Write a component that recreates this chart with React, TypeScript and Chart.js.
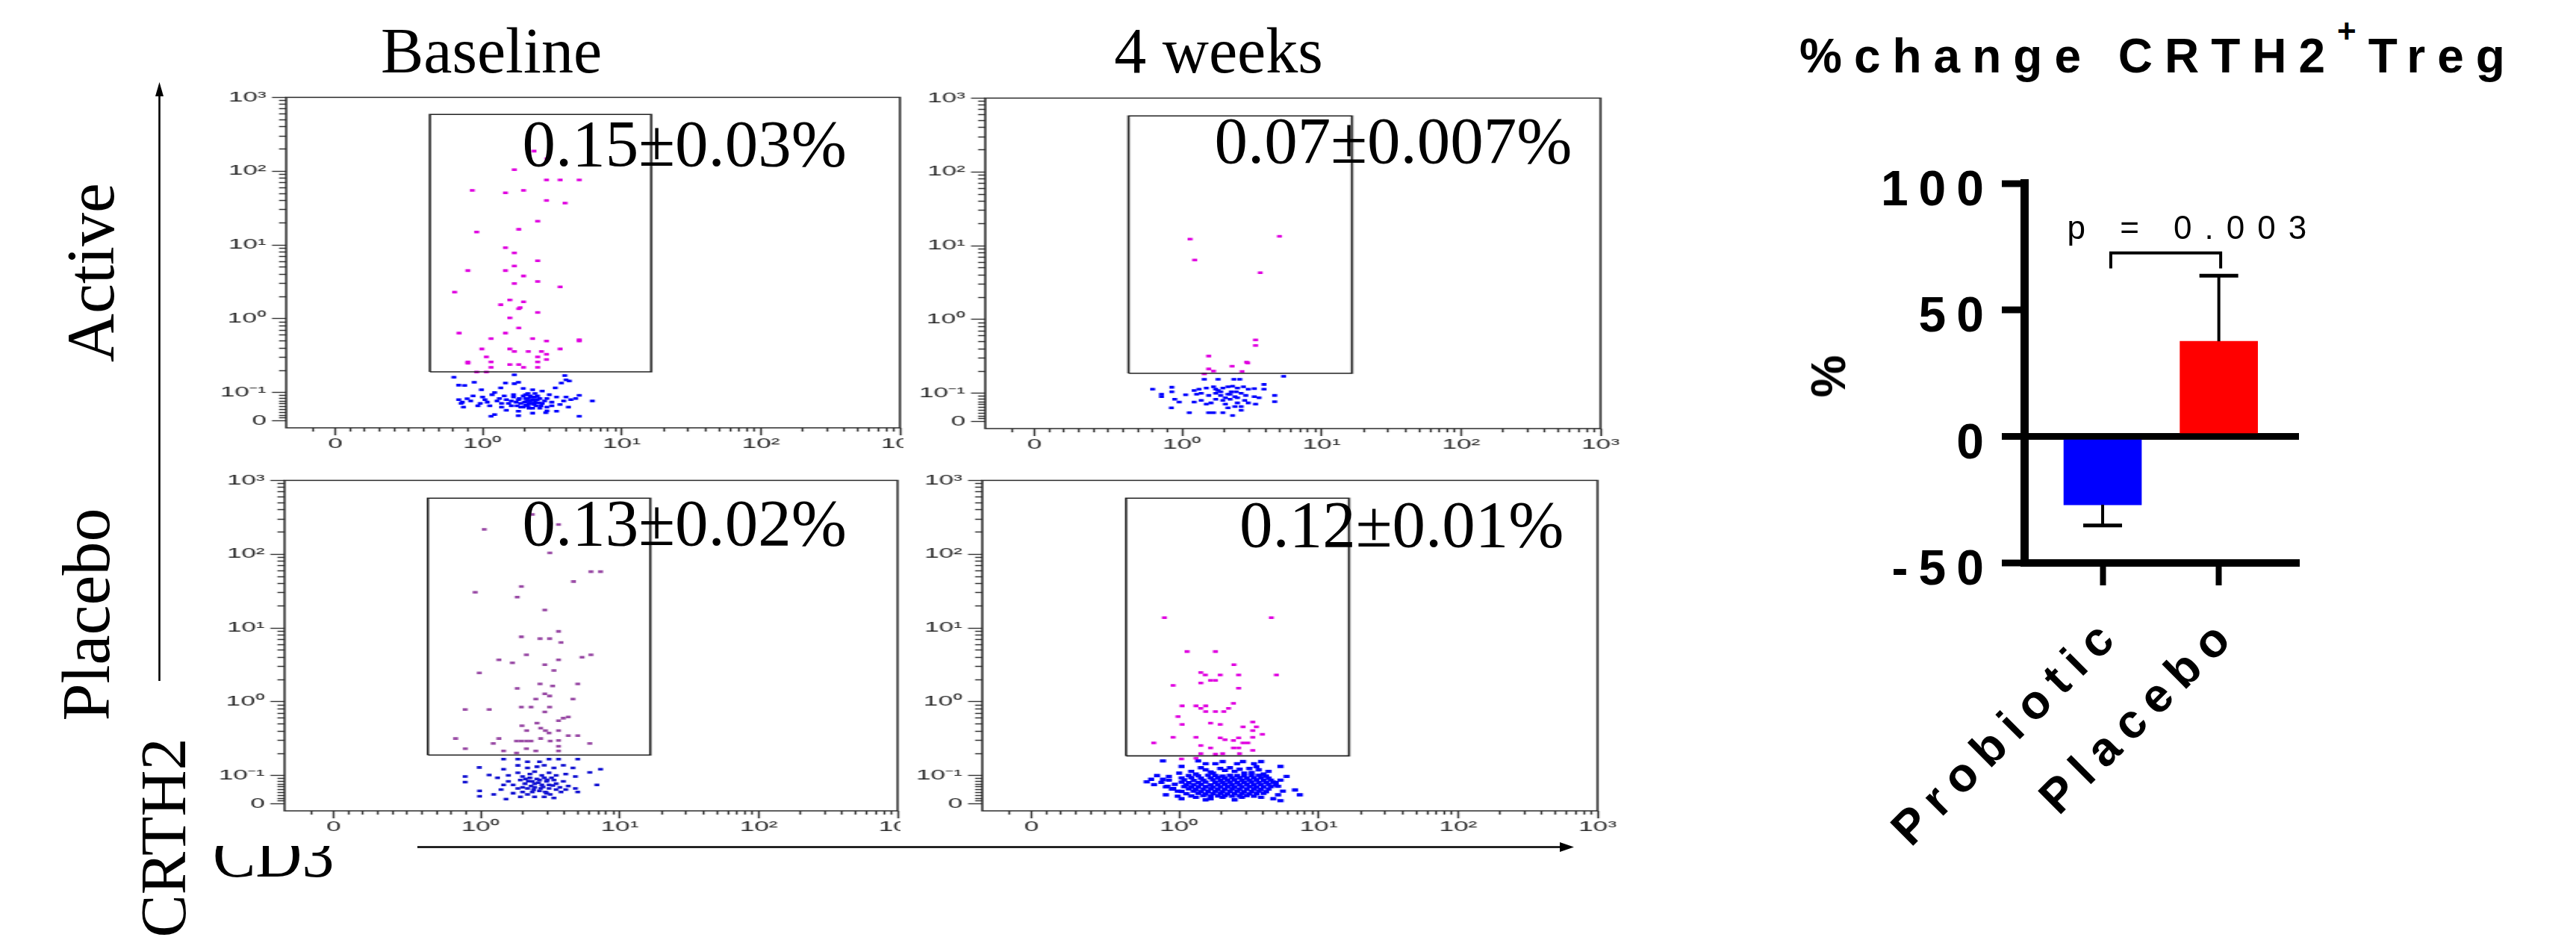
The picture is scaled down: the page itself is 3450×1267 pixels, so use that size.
import React, { useEffect, useRef } from 'react';
import { Chart, Scale, registerables } from 'chart.js';

Chart.register(...registerables);

// ---------------- data ----------------
const flowXTicksMajor = [0, 1, 10, 100, 1000];
const flowXLabelsMajor = ['0', '10⁰', '10¹', '10²', '10³'];
const flowXTicksMinor = [-0.15, 0.1, 0.2, 0.3, 0.4, 0.5, 0.6, 0.7, 0.8, 0.9, 2, 3, 4, 5, 6, 7, 8, 9, 20, 30, 40, 50, 60, 70, 80, 90, 200, 300, 400, 500, 600, 700, 800, 900];
const flowYTicksMajor = [0, 0.1, 1, 10, 100, 1000];
const flowYLabelsMajor = ['0', '10⁻¹', '10⁰', '10¹', '10²', '10³'];
const flowYTicksMinor = [0.01, 0.02, 0.03, 0.04, 0.05, 0.06, 0.07, 0.08, 0.09, 0.2, 0.3, 0.4, 0.5, 0.6, 0.7, 0.8, 0.9, 2, 3, 4, 5, 6, 7, 8, 9, 20, 30, 40, 50, 60, 70, 80, 90, 200, 300, 400, 500, 600, 700, 800, 900];

const columnTitles = ['Baseline', '4 weeks'];
const rowTitles = ['Active', 'Placebo'];
const yAxisName = 'CRTH2';
const xAxisName = 'CD3';
const gatePercents = ['0.15±0.03%', '0.07±0.007%', '0.13±0.02%', '0.12±0.01%'];

// gates: [xLow, xHigh, yLow, yHigh]
const gateTL = [0.642, 16.3, 0.191, 588];
const gateTR = [0.637, 16.5, 0.187, 574];
const gateBL = [0.64, 16.6, 0.19, 574];
const gateBR = [0.64, 16.5, 0.185, 574];

const tlMagenta: number[][] = [[2.34,187],[2.9,148],[1.69,105],[2.88,76],[3.61,76],[4.95,76],[0.93,55],[1.46,51],[1.97,55],[2.88,40],[3.92,37],[2.49,21],[0.96,15],[1.82,16.3],[1.46,9.2],[1.69,7.8],[2.49,6.1],[1.69,5.2],[0.9,4.5],[1.46,4.5],[1.97,3.8],[1.69,3.0],[2.49,3.2],[3.61,2.7],[0.81,2.3],[1.57,1.8],[1.97,1.7],[1.35,1.55],[1.82,1.37],[1.86,1.42],[2.49,1.22],[1.57,1.03],[1.82,0.75],[0.84,0.64],[1.46,0.64],[1.15,0.54],[2.29,0.54],[2.88,0.5],[4.95,0.52],[4.95,0.5],[0.995,0.39],[1.57,0.39],[1.69,0.36],[2.13,0.36],[2.65,0.36],[2.88,0.33],[3.61,0.39],[1.065,0.305],[2.49,0.305],[2.88,0.28],[0.9,0.25],[0.9,0.26],[1.15,0.26],[1.57,0.24],[1.82,0.24],[1.97,0.22],[2.49,0.26],[1.15,0.22],[2.49,0.22],[0.96,0.19],[1.065,0.19]];
const tlBlue: number[][] = [[0.805,0.161],[1.69,0.174],[3.9,0.17],[3.98,0.149],[4.2,0.144],[0.838,0.126],[0.878,0.125],[0.943,0.138],[1.46,0.135],[1.69,0.132],[1.81,0.138],[3.68,0.135],[3.33,0.116],[0.992,0.109],[1.35,0.116],[1.22,0.1],[1.96,0.114],[2.29,0.109],[2.68,0.105],[3.02,0.0925],[0.935,0.088],[1.0,0.084],[1.17,0.0925],[1.43,0.088],[1.67,0.0925],[2.12,0.097],[2.38,0.097],[2.48,0.088],[2.9,0.079],[3.4,0.084],[3.98,0.084],[4.67,0.079],[4.95,0.09],[6.15,0.0706],[0.838,0.075],[0.862,0.066],[0.919,0.0706],[0.984,0.062],[1.08,0.066],[1.27,0.0706],[1.48,0.075],[1.81,0.075],[2.04,0.079],[2.2,0.0706],[2.38,0.066],[2.68,0.062],[3.14,0.066],[3.6,0.0575],[4.14,0.0487],[0.87,0.0487],[0.968,0.053],[1.126,0.053],[1.37,0.0487],[1.61,0.053],[1.88,0.0487],[2.12,0.053],[2.29,0.0443],[2.58,0.0443],[2.9,0.0355],[3.4,0.034],[1.48,0.037],[1.81,0.034],[1.22,0.022],[1.15,0.016],[2.29,0.027],[1.81,0.018],[2.85,0.0285],[4.95,0.016],[2.04,0.0925],[2.25,0.084],[2.34,0.0575],[2.16,0.062],[2.0,0.066],[2.48,0.075],[1.88,0.062],[1.74,0.066],[2.63,0.053],[1.54,0.062],[1.96,0.0487],[1.67,0.084],[1.37,0.062],[2.12,0.079],[2.29,0.075],[2.38,0.084],[2.2,0.088],[2.08,0.0706],[2.25,0.062],[2.43,0.053],[2.16,0.0443],[1.96,0.088],[1.84,0.079],[2.53,0.064],[2.04,0.055],[1.77,0.053],[2.79,0.0706],[2.58,0.079],[1.61,0.0706],[1.32,0.079],[1.04,0.075],[0.895,0.078],[0.854,0.062],[2.9,0.0487],[3.83,0.0706],[4.31,0.075],[3.14,0.053]];

const trMagenta: number[][] = [[1.14,12.3],[1.23,6.4],[4.99,13.4],[3.63,4.3],[3.36,0.53],[3.36,0.445],[1.55,0.32],[2.9,0.265],[2.95,0.258],[2.28,0.233],[1.55,0.214],[1.68,0.2],[2.69,0.198],[1.44,0.183]];
const trBlue: number[][] = [[1.44,0.155],[1.81,0.155],[2.35,0.155],[2.59,0.155],[5.34,0.17],[0.8,0.114],[0.93,0.121],[0.93,0.105],[0.86,0.097],[0.86,0.088],[1.06,0.095],[0.95,0.079],[0.98,0.069],[1.22,0.109],[1.32,0.114],[1.49,0.118],[1.68,0.123],[1.81,0.109],[1.96,0.118],[2.13,0.123],[2.3,0.125],[2.49,0.118],[2.75,0.123],[2.98,0.114],[3.29,0.116],[3.86,0.132],[3.86,0.114],[1.27,0.097],[1.37,0.1],[1.55,0.0925],[1.74,0.1],[1.89,0.0925],[2.13,0.097],[2.25,0.105],[2.39,0.088],[2.65,0.1],[2.86,0.0925],[3.29,0.088],[3.56,0.084],[4.61,0.0925],[4.61,0.0706],[1.22,0.069],[1.49,0.062],[1.61,0.066],[1.96,0.075],[2.21,0.079],[2.49,0.066],[2.65,0.053],[2.98,0.066],[3.36,0.062],[0.927,0.0487],[1.126,0.031],[1.55,0.031],[1.68,0.031],[1.96,0.031],[2.13,0.0487],[2.3,0.0215],[2.65,0.04],[2.39,0.053],[1.74,0.079],[2.04,0.062],[1.89,0.105],[2.21,0.097],[2.44,0.105],[1.74,0.114],[2.04,0.084],[2.49,0.084],[2.81,0.075],[1.37,0.075]];

const blMagenta: number[][] = [[1.06,217],[2.35,346],[3.63,253],[3.14,104],[6.21,58],[7.28,58],[4.65,42.6],[0.962,30.5],[1.96,36.5],[1.83,26.2],[2.89,17.5],[3.63,9.0],[1.96,7.6],[2.67,7.17],[3.13,7.17],[3.78,6.38],[1.35,3.71],[2.13,4.33],[1.69,3.38],[3.63,3.71],[5.36,4.01],[6.21,4.33],[2.89,3.18],[3.36,2.66],[0.99,2.46],[1.83,1.52],[2.67,1.75],[3.29,1.64],[4.99,1.75],[2.49,1.09],[2.89,1.28],[3.13,1.2],[4.61,1.09],[0.894,0.787],[1.15,0.787],[1.96,0.85],[2.3,0.85],[3.13,0.85],[2.89,0.728],[3.63,0.555],[3.93,0.6],[4.26,0.623],[1.98,0.475],[2.14,0.407],[2.7,0.44],[2.92,0.407],[3.63,0.407],[0.829,0.318],[1.35,0.318],[1.81,0.294],[1.96,0.294],[2.13,0.294],[2.3,0.294],[2.7,0.318],[3.16,0.294],[3.63,0.2985],[4.26,0.348],[4.99,0.348],[6.09,0.272],[1.23,0.272],[0.895,0.231],[1.46,0.2155],[1.81,0.2025],[2.13,0.231],[2.49,0.2155],[3.63,0.2155],[3.63,0.25],[3.1,0.377],[2.54,0.513]];
const blBlue: number[][] = [[1.46,0.167],[1.85,0.167],[2.17,0.154],[2.65,0.154],[3.1,0.167],[3.63,0.167],[4.99,0.167],[0.99,0.129],[1.46,0.122],[1.85,0.1375],[2.17,0.127],[2.54,0.132],[2.86,0.138],[3.36,0.127],[3.93,0.138],[4.61,0.127],[6.09,0.1106],[7.28,0.122],[0.894,0.0966],[0.894,0.0772],[1.149,0.102],[1.32,0.0924],[1.58,0.1007],[1.85,0.109],[2.0,0.0966],[2.26,0.105],[2.44,0.113],[2.75,0.1007],[3.1,0.109],[3.49,0.1007],[4.09,0.105],[4.8,0.0966],[6.85,0.0671],[0.992,0.046],[0.992,0.0266],[1.24,0.0333],[1.4,0.0502],[1.46,0.0671],[1.58,0.0797],[1.71,0.0671],[1.93,0.084],[2.08,0.0713],[2.35,0.0797],[2.54,0.0882],[2.75,0.0671],[2.98,0.0797],[3.23,0.0924],[3.49,0.0713],[3.93,0.0797],[4.26,0.0629],[4.8,0.0544],[4.99,0.0418],[1.52,0.0165],[1.71,0.0376],[1.93,0.0249],[2.17,0.0333],[2.44,0.0249],[2.86,0.0249],[2.98,0.0376],[3.36,0.0207],[3.78,0.0418],[4.09,0.0502],[2.17,0.0544],[2.44,0.0586],[2.65,0.046],[3.1,0.0544],[3.49,0.0502],[1.85,0.0544],[2.0,0.0418],[2.35,0.0418],[2.26,0.0924],[2.44,0.0713],[2.65,0.084],[2.86,0.0924],[3.1,0.0671],[3.36,0.084],[3.71,0.0586],[2.0,0.0586],[2.3,0.0629],[2.7,0.0544],[2.92,0.0418],[3.16,0.0333],[2.2,0.08],[2.6,0.075],[2.8,0.06],[2.4,0.05],[3.0,0.085],[2.1,0.088],[3.3,0.065]];

const brMagenta: number[][] = [[0.9,13.8],[4.58,13.8],[1.14,4.8],[1.82,4.8],[2.47,3.19],[1.43,2.49],[1.54,2.31],[1.97,2.31],[2.67,2.31],[4.98,2.31],[1.68,1.95],[1.82,1.95],[1.43,1.8],[0.959,1.67],[2.67,1.53],[1.05,0.881],[1.32,0.881],[1.55,0.881],[1.43,0.815],[2.45,0.951],[1.55,0.738],[1.82,0.738],[2.09,0.738],[2.26,0.815],[0.992,0.632],[1.68,0.513],[1.97,0.494],[1.05,0.494],[2.87,0.457],[3.37,0.533],[3.58,0.457],[3.37,0.407],[3.95,0.3625],[0.828,0.277],[0.959,0.331],[1.32,0.331],[1.97,0.325],[2.13,0.306],[2.45,0.299],[2.67,0.325],[2.87,0.277],[3.11,0.277],[3.37,0.331],[1.43,0.256],[1.68,0.237],[2.45,0.237],[2.67,0.237],[3.37,0.2197],[1.43,0.1985],[1.82,0.195],[2.05,0.1985],[2.71,0.1985],[1.04,0.168],[1.32,0.172]];
const brBlue: number[][] = [
[1.17,0.1],[1.37,0.099],[1.61,0.101],[1.82,0.1],[2.05,0.098],[2.31,0.101],[2.6,0.1],[2.93,0.099],[3.31,0.1],[3.72,0.101],[4.2,0.098],
[1.04,0.092],[1.22,0.093],[1.43,0.091],[1.68,0.092],[1.9,0.093],[2.13,0.091],[2.4,0.092],[2.71,0.093],[3.05,0.091],[3.44,0.092],[3.87,0.093],[4.37,0.091],
[0.93,0.084],[1.085,0.085],[1.27,0.083],[1.49,0.084],[1.75,0.085],[1.97,0.083],[2.22,0.084],[2.5,0.085],[2.82,0.083],[3.18,0.084],[3.58,0.085],[4.03,0.083],[4.55,0.084],
[0.88,0.076],[1.04,0.077],[1.17,0.075],[1.37,0.076],[1.55,0.077],[1.82,0.075],[2.05,0.076],[2.31,0.077],[2.6,0.075],[2.93,0.076],[3.31,0.077],[3.72,0.075],[4.2,0.076],[4.73,0.077],
[0.83,0.068],[0.97,0.069],[1.127,0.067],[1.27,0.068],[1.43,0.069],[1.68,0.067],[1.9,0.068],[2.13,0.069],[2.4,0.067],[2.71,0.068],[3.05,0.069],[3.44,0.067],[3.87,0.068],[4.37,0.069],[4.93,0.067],
[0.91,0.06],[1.085,0.061],[1.22,0.059],[1.37,0.06],[1.55,0.061],[1.75,0.059],[1.97,0.06],[2.22,0.061],[2.5,0.059],[2.82,0.06],[3.18,0.061],[3.58,0.059],[4.03,0.06],[4.55,0.061],
[0.95,0.052],[1.17,0.053],[1.32,0.051],[1.49,0.052],[1.68,0.053],[1.9,0.051],[2.13,0.052],[2.4,0.053],[2.71,0.051],[3.05,0.052],[3.44,0.053],[3.87,0.051],[4.37,0.052],
[1.04,0.044],[1.27,0.045],[1.43,0.043],[1.61,0.044],[1.82,0.045],[2.05,0.043],[2.31,0.044],[2.6,0.045],[2.93,0.043],[3.31,0.044],[3.72,0.045],[4.2,0.043],
[1.127,0.036],[1.37,0.037],[1.55,0.035],[1.75,0.036],[1.97,0.037],[2.22,0.035],[2.5,0.036],[2.82,0.037],[3.18,0.035],[3.58,0.036],[4.03,0.037],
[1.22,0.028],[1.49,0.029],[1.68,0.027],[1.9,0.028],[2.13,0.029],[2.4,0.027],[2.71,0.028],[3.05,0.029],[3.44,0.027],
[0.89,0.158],[1.04,0.133],[1.37,0.158],[1.55,0.145],[1.82,0.145],[2.05,0.155],[2.6,0.145],[2.87,0.155],[3.44,0.145],[3.87,0.155],[5.33,0.133],[1.97,0.125],[2.31,0.128],[3.18,0.125],[3.72,0.12],[4.37,0.114],[1.55,0.12],[1.22,0.114],[1.43,0.128],[1.75,0.108],[2.5,0.114],[2.93,0.108],[4.03,0.105],[1.0,0.108],[0.93,0.097],[1.68,0.112],[2.13,0.118],[2.71,0.122],[3.31,0.11],[1.32,0.105],[3.58,0.132],
[5.89,0.097],[5.33,0.084],[5.12,0.062],[5.54,0.045],[6.77,0.049],[7.33,0.032],[5.12,0.032],[4.93,0.075],
[0.91,0.032],[0.99,0.027],[1.04,0.018],[1.55,0.014],[1.68,0.018],[2.5,0.014],[2.82,0.023],[3.87,0.023],[4.73,0.018],[5.33,0.011],[2.05,0.023],[1.32,0.023],
[0.78,0.078],[0.81,0.087],[0.85,0.1],[0.89,0.087],[0.96,0.054],[0.92,0.062],[0.99,0.045]];

// bar chart data
const barTitle = '%change CRTH2';
const barTitleSup = '+';
const barTitleEnd = 'Treg';
const barYTitle = '%';
const barCategories = ['Probiotic', 'Placebo'];
const barMeans = [-27.0, 37.6];
const barSems = [8.2, 25.9];
const barColors = ['#0000ff', '#ff0000'];
const barYMin = -50;
const barYMax = 100;
const barYStep = 50;
const pValueText = 'p = 0.003';
const bracketX = [0.07, 1.016];
const bracketY = [72.5, 66.4];

// ---------------- biexponential-like scale ----------------
const X_TF = { lin: 1, zone: 1.058 };
const Y_TF = { lin: 0.1, zone: 0.382 };

class BiexScale extends (Scale as any) {
  static id = 'biex';
  static defaults = {};
  p() { return this.axis === 'x' ? X_TF : Y_TF; }
  tf(v: number) {
    const { lin, zone } = this.p();
    return v >= lin ? Math.log10(v) : Math.log10(lin) - ((lin - v) / lin) * zone;
  }
  itf(t: number) {
    const { lin, zone } = this.p();
    const l = Math.log10(lin);
    return t >= l ? Math.pow(10, t) : lin - ((l - t) / zone) * lin;
  }
  determineDataLimits() {
    this.min = this.options.min;
    this.max = this.options.max;
  }
  buildTicks() { return []; }
  getLabelForValue(v: number) { return String(v); }
  configure() {
    super.configure();
    this._t0 = this.tf(this.min);
    this._t1 = this.tf(this.max);
  }
  getPixelForValue(v: number) {
    if (v === null || v === undefined || isNaN(v)) return NaN;
    return this.getPixelForDecimal((this.tf(v) - this._t0) / (this._t1 - this._t0));
  }
  getValueForPixel(px: number) {
    return this.itf(this._t0 + this.getDecimalForPixel(px) * (this._t1 - this._t0));
  }
}
Chart.register(BiexScale as any);

// ---------------- layout constants ----------------
const PLOT_W = 444;
const PLOT_H = 446;
const Y_AXIS_W = 59;
const X_AXIS_H = 47;
const TOP_PAD = 12;
const RIGHT_PAD = 14;
const CW = Y_AXIS_W + PLOT_W + RIGHT_PAD;
const CH = TOP_PAD + PLOT_H + X_AXIS_H;
const X_MIN = -0.3346, X_MAX = 1000, Y_MIN = -0.025, Y_MAX = 1000;

const sans = '"Liberation Sans", Arial, Helvetica, sans-serif';
const serif = '"Liberation Serif", "Times New Roman", Times, serif';

function buildTicks(major: number[], minor: number[]) {
  const all = major.map((v) => ({ value: v, mj: true })).concat(minor.map((v) => ({ value: v, mj: false })));
  all.sort((a, b) => a.value - b.value);
  return all;
}
function labelFor(v: number, major: number[], labels: string[]) {
  const i = major.indexOf(v);
  return i >= 0 ? labels[i] : '';
}

const bgPlugin = {
  id: 'bgWhite',
  beforeDraw(chart: any) {
    const { ctx, width, height } = chart;
    ctx.save();
    ctx.fillStyle = '#ffffff';
    ctx.fillRect(0, 0, width, height);
    ctx.restore();
  },
};
const framePlugin = {
  id: 'frameBox',
  afterDatasetsDraw(chart: any) {
    const { ctx, chartArea: a } = chart;
    ctx.save();
    ctx.strokeStyle = '#2b2b2b';
    ctx.lineWidth = 1.5;
    ctx.strokeRect(a.left, a.top, a.right - a.left, a.bottom - a.top);
    ctx.restore();
  },
};

type PlotDef = {
  frameLeft: number; frameTop: number; frameW: number; z: number;
  blue: number[][]; magenta: number[][]; gate: number[];
  blueColor: string; magColor: string; blueR: number;
};

const plots: PlotDef[] = [
  { frameLeft: 383, frameTop: 127, frameW: 822, z: 1, blue: tlBlue, magenta: tlMagenta, gate: gateTL, blueColor: '#0000ff', magColor: '#e000e0', blueR: 2.5 },
  { frameLeft: 1319, frameTop: 128, frameW: 824, z: 2, blue: trBlue, magenta: trMagenta, gate: gateTR, blueColor: '#0000ff', magColor: '#e000e0', blueR: 2.5 },
  { frameLeft: 381, frameTop: 640, frameW: 821, z: 1, blue: blBlue, magenta: blMagenta, gate: gateBL, blueColor: '#1414d2', magColor: '#9a4ca6', blueR: 2.5 },
  { frameLeft: 1315, frameTop: 640, frameW: 824, z: 2, blue: brBlue, magenta: brMagenta, gate: gateBR, blueColor: '#0000ff', magColor: '#e000e0', blueR: 3.1 },
];

function FlowPlot({ plot }: { plot: PlotDef }) {
  const ref = useRef<HTMLCanvasElement | null>(null);
  const S = plot.frameW / PLOT_W;
  useEffect(() => {
    const [gx0, gx1, gy0, gy1] = plot.gate;
    const chart = new Chart(ref.current as HTMLCanvasElement, {
      type: 'scatter',
      data: {
        datasets: [
          {
            type: 'line',
            data: [{ x: gx0, y: gy0 }, { x: gx0, y: gy1 }, { x: gx1, y: gy1 }, { x: gx1, y: gy0 }, { x: gx0, y: gy0 }],
            showLine: true, borderColor: '#222', borderWidth: 1.6, pointRadius: 0, fill: false, order: 0,
          } as any,
          {
            data: plot.magenta.map(([x, y]) => ({ x, y })),
            pointStyle: 'rect', pointRadius: 2.5, backgroundColor: plot.magColor, borderWidth: 0, order: 1,
          },
          {
            data: plot.blue.map(([x, y]) => ({ x, y })),
            pointStyle: 'rect', pointRadius: plot.blueR, backgroundColor: plot.blueColor, borderWidth: 0, order: 2,
          },
        ],
      },
      options: {
        responsive: false,
        animation: false,
        events: [],
        layout: { padding: { top: TOP_PAD, right: RIGHT_PAD, left: 0, bottom: 0 } },
        plugins: { legend: { display: false }, tooltip: { enabled: false } },
        scales: {
          x: {
            type: 'biex' as any, position: 'bottom', min: X_MIN, max: X_MAX,
            afterBuildTicks: (s: any) => { s.ticks = buildTicks(flowXTicksMajor, flowXTicksMinor); },
            afterFit: (s: any) => { s.height = X_AXIS_H; },
            border: { display: false },
            grid: {
              display: true, drawOnChartArea: false, drawTicks: true, tickLength: 10, tickWidth: 1.4, tickColor: '#333',
              tickBorderDash: (c: any) => (c.tick && c.tick.mj ? [] : [5, 100]),
            },
            ticks: {
              autoSkip: false, maxRotation: 0, minRotation: 0, padding: 0, color: '#2a2a2a',
              font: { family: sans, size: 19 },
              callback: (v: any) => labelFor(v, flowXTicksMajor, flowXLabelsMajor),
            },
          },
          y: {
            type: 'biex' as any, position: 'left', min: Y_MIN, max: Y_MAX,
            afterBuildTicks: (s: any) => { s.ticks = buildTicks(flowYTicksMajor, flowYTicksMinor); },
            afterFit: (s: any) => { s.width = Y_AXIS_W; },
            border: { display: false },
            grid: {
              display: true, drawOnChartArea: false, drawTicks: true, tickLength: 10.3, tickWidth: 1.4, tickColor: '#333',
              tickBorderDash: (c: any) => (c.tick && c.tick.mj ? [] : [0, 5.1, 5.2, 100]),
            },
            ticks: {
              autoSkip: false, padding: 4, color: '#2a2a2a',
              font: { family: sans, size: 19 },
              callback: (v: any) => labelFor(v, flowYTicksMajor, flowYLabelsMajor),
            },
          },
        },
      } as any,
      plugins: [bgPlugin, framePlugin],
    });
    return () => chart.destroy();
  }, []);
  return (
    <canvas
      ref={ref}
      width={CW}
      height={CH}
      style={{
        position: 'absolute',
        left: plot.frameLeft - Y_AXIS_W * S,
        top: plot.frameTop - TOP_PAD,
        width: CW,
        height: CH,
        transform: `scaleX(${S})`,
        transformOrigin: '0 0',
        zIndex: plot.z,
      }}
    />
  );
}

// ---------------- bar chart ----------------
const BAR_LEFT = 2330, BAR_TOP = 196, BAR_W = 789, BAR_H = 1004;

const spacingPlugin = {
  id: 'letterSpacing',
  beforeUpdate(c: any) { c.ctx.letterSpacing = '14px'; },
  beforeDraw(c: any) { c.ctx.letterSpacing = '14px'; },
  afterDatasetsDraw(c: any) { c.ctx.letterSpacing = '16px'; },
};

const errorBarPlugin = {
  id: 'errorBars',
  afterDatasetsDraw(chart: any) {
    const { ctx } = chart;
    const xs = chart.scales.x, ys = chart.scales.y;
    ctx.save();
    ctx.strokeStyle = '#000';
    barMeans.forEach((m, i) => {
      const px = xs.getPixelForValue(i);
      const end = m + Math.sign(m) * barSems[i];
      const y0 = ys.getPixelForValue(m);
      const y1 = ys.getPixelForValue(end);
      ctx.lineWidth = 4;
      ctx.beginPath(); ctx.moveTo(px, y0); ctx.lineTo(px, y1); ctx.stroke();
      ctx.lineWidth = 5;
      ctx.beginPath(); ctx.moveTo(px - 26, y1); ctx.lineTo(px + 26, y1); ctx.stroke();
    });
    // significance bracket
    const bx0 = xs.getPixelForValue(bracketX[0]);
    const bx1 = xs.getPixelForValue(bracketX[1]);
    const byTop = ys.getPixelForValue(bracketY[0]);
    const byLeg = ys.getPixelForValue(bracketY[1]);
    ctx.lineWidth = 4;
    ctx.beginPath();
    ctx.moveTo(bx0, byLeg); ctx.lineTo(bx0, byTop); ctx.lineTo(bx1, byTop); ctx.lineTo(bx1, byLeg);
    ctx.stroke();
    ctx.restore();
  },
};

function BarPanel() {
  const ref = useRef<HTMLCanvasElement | null>(null);
  useEffect(() => {
    const chart = new Chart(ref.current as HTMLCanvasElement, {
      type: 'bar',
      data: {
        datasets: [{
          data: barCategories.map((c, i) => ({ x: i, y: barMeans[i] })),
          backgroundColor: barColors,
          borderWidth: 0,
          barThickness: 104,
        }],
      },
      options: {
        responsive: false,
        animation: false,
        events: [],
        layout: { padding: { left: 0, top: 40, right: 40, bottom: 0 } },
        plugins: { legend: { display: false }, tooltip: { enabled: false } },
        scales: {
          x: {
            type: 'linear', position: 'bottom', min: -0.675, max: 1.69, bounds: 'data', offset: false,
            afterBuildTicks: (s: any) => { s.ticks = barCategories.map((_, i) => ({ value: i })); },
            afterFit: (s: any) => { s.height = BAR_TOP + BAR_H - 754; },
            border: { display: true, width: 10, color: '#000' },
            grid: { display: true, offset: false, drawOnChartArea: false, drawTicks: true, tickLength: 30, tickWidth: 8, tickColor: '#000' },
            ticks: {
              autoSkip: false, minRotation: 45, maxRotation: 45, padding: 27, labelOffset: 16, color: '#000',
              font: { family: sans, size: 64, weight: 'bold' },
              callback: (v: any) => barCategories[v] ?? '',
            },
          },
          y: {
            type: 'linear', position: 'left', min: barYMin, max: barYMax, z: 1,
            afterFit: (s: any) => { s.width = 2711 - BAR_LEFT; },
            border: { display: true, width: 11, color: '#000' },
            grid: {
              display: true, drawOnChartArea: true, drawTicks: true, tickLength: 30, tickWidth: 9, tickColor: '#000',
              color: (c: any) => (c.tick && c.tick.value === 0 ? '#000' : 'rgba(0,0,0,0)'),
              lineWidth: (c: any) => (c.tick && c.tick.value === 0 ? 9 : 0),
            },
            ticks: {
              stepSize: barYStep, padding: 10, labelOffset: 11, color: '#000',
              font: { family: sans, size: 66, weight: 'bold' },
            },
          },
        },
      } as any,
      plugins: [spacingPlugin, errorBarPlugin],
    });
    return () => chart.destroy();
  }, []);
  return (
    <canvas ref={ref} width={BAR_W} height={BAR_H}
      style={{ position: 'absolute', left: BAR_LEFT, top: BAR_TOP, width: BAR_W, height: BAR_H, zIndex: 3 }} />
  );
}

// ---------------- text helpers ----------------
function Txt(props: { left: number; top: number; size: number; family: string; weight?: any; center?: boolean; ls?: number; z?: number; children: any }) {
  return (
    <div style={{
      position: 'absolute', left: props.left, top: props.top, fontSize: props.size, lineHeight: 1,
      fontFamily: props.family, fontWeight: props.weight || 'normal', whiteSpace: 'nowrap', color: '#000',
      letterSpacing: props.ls ? `${props.ls}px` : undefined,
      transform: props.center ? 'translateX(-50%)' : undefined, zIndex: props.z ?? 5,
    }}>{props.children}</div>
  );
}
function RotTxt(props: { cx: number; cy: number; size: number; family: string; weight?: any; children: any }) {
  return (
    <div style={{
      position: 'absolute', left: props.cx, top: props.cy, fontSize: props.size, lineHeight: 1,
      fontFamily: props.family, fontWeight: props.weight || 'normal', whiteSpace: 'nowrap', color: '#000',
      transform: 'translate(-50%, -50%) rotate(-90deg)', zIndex: 5,
    }}>{props.children}</div>
  );
}

export default function App() {
  return (
    <div style={{ position: 'absolute', left: 0, top: 0, width: 3450, height: 1267, overflow: 'hidden', background: '#fff' }}>
      <Txt left={287 - 2} top={1102} size={86} family={serif} z={0}>{xAxisName}</Txt>
      {plots.map((p, i) => <FlowPlot key={i} plot={p} />)}
      <BarPanel />

      <Txt left={658} top={25} size={86} family={serif} center>{columnTitles[0]}</Txt>
      <Txt left={1632} top={25} size={86} family={serif} center>{columnTitles[1]}</Txt>
      <RotTxt cx={121.6} cy={364.7} size={90} family={serif}>{rowTitles[0]}</RotTxt>
      <RotTxt cx={115.6} cy={823} size={90} family={serif}>{rowTitles[1]}</RotTxt>
      <RotTxt cx={219} cy={1122} size={86} family={serif}>{yAxisName}</RotTxt>

      <Txt left={699.4} top={147.6} size={89} family={serif}>{gatePercents[0]}</Txt>
      <Txt left={1626.5} top={143.6} size={89} family={serif}>{gatePercents[1]}</Txt>
      <Txt left={699.4} top={655.6} size={89} family={serif}>{gatePercents[2]}</Txt>
      <Txt left={1660} top={657.6} size={89} family={serif}>{gatePercents[3]}</Txt>

      <Txt left={2410} top={42.8} size={64} family={sans} weight="bold" ls={16}>
        {barTitle}<span style={{ fontSize: 44, position: 'relative', top: -40 }}>{barTitleSup}</span>{barTitleEnd}
      </Txt>
      <RotTxt cx={2449} cy={504} size={64} family={sans} weight="bold">{barYTitle}</RotTxt>
      <Txt left={2768.5} top={282.8} size={44} family={sans} ls={17}>{pValueText}</Txt>

      <svg width={3450} height={1267} style={{ position: 'absolute', left: 0, top: 0, zIndex: 6, pointerEvents: 'none' }}>
        <line x1={213.5} y1={126} x2={213.5} y2={912} stroke="#000" strokeWidth={2.6} />
        <polygon points="213.5,110 208,129 219,129" fill="#000" />
        <line x1={559} y1={1134.5} x2={2092} y2={1134.5} stroke="#000" strokeWidth={2.6} />
        <polygon points="2108,1134.5 2089,1128 2089,1141" fill="#000" />
      </svg>
    </div>
  );
}
